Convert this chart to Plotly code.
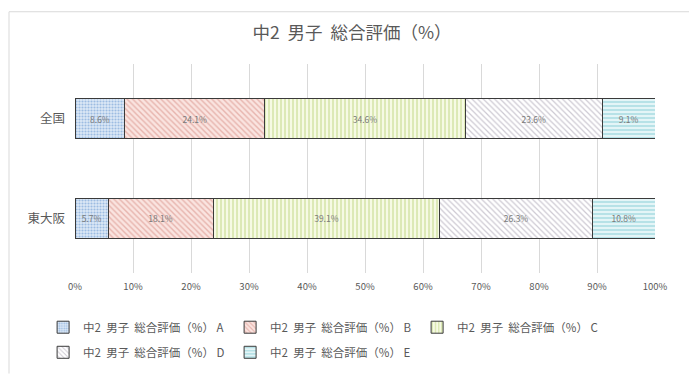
import plotly.graph_objects as go

NB = "\u00a0"
categories = ["全国", "東大阪"]
series_names = [f"中2{NB}{NB}男子{NB}{NB}総合評価（%）{NB}A", f"中2{NB}{NB}男子{NB}{NB}総合評価（%）{NB}B",
                f"中2{NB}{NB}男子{NB}{NB}総合評価（%）{NB}C", f"中2{NB}{NB}男子{NB}{NB}総合評価（%）{NB}D",
                f"中2{NB}{NB}男子{NB}{NB}総合評価（%）{NB}E"]
val_A = [8.6, 5.7]
val_B = [24.1, 18.1]
val_C = [34.6, 39.1]
val_D = [23.6, 26.3]
val_E = [9.1, 10.8]
x_ticks = list(range(0, 101, 10))

series_vals = [val_A, val_B, val_C, val_D, val_E]
styles = [
    dict(shape=".", bg="#dce8f5", fg="#5b8fd0", size=3, sol=0.4),
    dict(shape="\\", bg="#fae4e0", fg="#d4847a", size=4, sol=0.35),
    dict(shape="|", bg="#f6fae4", fg="#b5d070", size=4, sol=0.4),
    dict(shape="\\", bg="#ffffff", fg="#9c94a6", size=4, sol=0.3),
    dict(shape="-", bg="#e4f5f7", fg="#62bfc9", size=4, sol=0.35),
]

FONT = "Noto Sans CJK JP"
fig = go.Figure()
for i, (name, vals, st) in enumerate(zip(series_names, series_vals, styles)):
    fig.add_trace(go.Bar(
        name=name, y=categories, x=vals, orientation="h", width=0.406,
        marker=dict(color=st["bg"], line=dict(color="#3a3a3a", width=1),
                    pattern=dict(shape=st["shape"], bgcolor=st["bg"], fgcolor=st["fg"],
                                 size=st["size"], solidity=st["sol"], fillmode="overlay")),
        text=[f"{v:.1f}%" for v in vals], textposition="inside", insidetextanchor="middle",
        textangle=0, constraintext="none",
        textfont=dict(size=8.5, color="#7a7a7a", family=FONT),
        legend="legend" if i < 3 else "legend2",
        hoverinfo="skip",
    ))

fx0 = (9 - 75) / 580
fy1 = (276 - 11) / 212
fx1 = (689 - 75) / 580
fy0 = (276 - 378) / 212
fig.update_layout(
    width=690, height=379, barmode="stack",
    margin=dict(l=75, r=35, t=64, b=103),
    paper_bgcolor="white", plot_bgcolor="white",
    font=dict(family=FONT, color="#595959"),
    title=dict(text=f"中2{NB}{NB}男子{NB}{NB}総合評価（%）", x=352/690, xanchor="center", xref="container",
               y=1 - 33/379, yanchor="middle", font=dict(size=17.5, color="#595959", family=FONT)),
    xaxis=dict(range=[0, 100], tickvals=x_ticks, ticktext=[f"{t}%" for t in x_ticks],
               showgrid=True, gridcolor="#d9d9d9", gridwidth=1, zeroline=False, showline=False,
               tickfont=dict(size=9.5, color="#595959"), ticks="", ticklabelstandoff=6),
    yaxis=dict(categoryorder="array", categoryarray=categories, range=[1.55, -0.55],
               showgrid=False, zeroline=False, showline=False, ticks="",
               tickfont=dict(size=12.5, color="#595959"), ticklabelstandoff=9),
    legend=dict(orientation="h", x=-0.055, xanchor="left", y=-0.19, yanchor="top",
                entrywidth=142, entrywidthmode="pixels", font=dict(size=11.5, color="#595959"),
                traceorder="normal", itemwidth=30),
    legend2=dict(orientation="h", x=-0.055, xanchor="left", y=-0.31, yanchor="top",
                 entrywidth=142, entrywidthmode="pixels", font=dict(size=11.5, color="#595959"),
                 traceorder="normal", itemwidth=30),
    shapes=[
        dict(type="line", xref="paper", yref="paper", x0=fx0, x1=fx0, y0=fy0, y1=fy1,
             line=dict(color="#d9d9d9", width=1), layer="below"),
        dict(type="line", xref="paper", yref="paper", x0=fx0, x1=fx1, y0=fy1, y1=fy1,
             line=dict(color="#d9d9d9", width=1), layer="below"),
    ],
)

fig.write_html("out.html")
